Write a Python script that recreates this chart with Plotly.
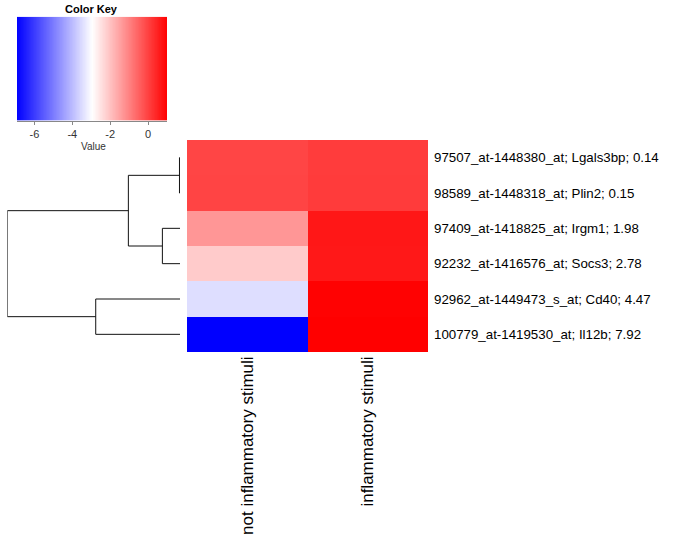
import numpy as np
import plotly.graph_objects as go

# ---------------- data ----------------
conditions = ["not inflammatory stimuli", "inflammatory stimuli"]
probes = ["97507_at-1448380_at", "98589_at-1448318_at", "97409_at-1418825_at",
          "92232_at-1416576_at", "92962_at-1449473_s_at", "100779_at-1419530_at"]
genes = ["Lgals3bp", "Plin2", "Irgm1", "Socs3", "Cd40", "Il12b"]
logfc = [0.14, 0.15, 1.98, 2.78, 4.47, 7.92]
values_not = [-0.07, -0.06, -1.33, -2.15, -3.47, -6.92]
values_infl = [0.07, 0.09, 0.65, 0.63, 0.97, 1.00]
# row dendrogram: (child a, child b, merge height); leaves "L#", internal nodes "N#"
merges = [("L0", "L1", 0.03), ("L2", "L3", 1.02), ("N0", "N1", 2.99),
          ("L4", "L5", 4.88), ("N2", "N3", 10.0)]
key_ticks = [-6, -4, -2, 0]
key_ticktext = ["-6", "-4", "-2", "0"]

W, H = 685, 540
FONT = "Liberation Sans, Arial, sans-serif"

def px_x(p):
    return p / W

def px_y(p):
    return 1 - p / H

z = [[a, b] for a, b in zip(values_not, values_infl)]
zmin = min(min(values_not), min(values_infl))
zmax = max(max(values_not), max(values_infl))
cscale = [[0, "#0000FF"], [0.5, "#FFFFFF"], [1, "#FF0000"]]

fig = go.Figure()

fig.add_trace(go.Heatmap(
    z=z, x=list(range(len(conditions))), y=list(range(len(probes))),
    colorscale=cscale, zmin=zmin, zmax=zmax, showscale=False,
    xaxis="x", yaxis="y", hoverinfo="skip"))

# dendrogram
pos = {}
for i in range(len(probes)):
    pos["L%d" % i] = (float(i), 0.0)
xs, ys = [], []
for k, (a, b, h) in enumerate(merges):
    ya, ha = pos[a]
    yb, hb = pos[b]
    xs += [ha, h, h, hb, None]
    ys += [ya, ya, yb, yb, None]
    pos["N%d" % k] = ((ya + yb) / 2, h)
fig.add_trace(go.Scatter(x=xs, y=ys, mode="lines", line=dict(color="#111111", width=1),
                         xaxis="x2", yaxis="y", hoverinfo="skip", cliponaxis=False))

# color key
kx = np.linspace(zmin, zmax, 256)
fig.add_trace(go.Heatmap(z=[list(kx)], x=list(kx), y=[0], colorscale=cscale,
                         zmin=zmin, zmax=zmax, showscale=False,
                         xaxis="x3", yaxis="y3", hoverinfo="skip"))

hm_top, hm_bot = 140, 352
fig.update_layout(
    width=W, height=H, margin=dict(l=0, r=0, t=0, b=0),
    paper_bgcolor="white", plot_bgcolor="white", showlegend=False,
    font=dict(family=FONT, color="black"),
    xaxis=dict(domain=[px_x(187), px_x(428)], range=[-0.5, 1.5], anchor="y",
               tickvals=list(range(len(conditions))), ticktext=conditions,
               tickangle=-90, tickfont=dict(size=17), ticks="", showgrid=False,
               zeroline=False, showline=False),
    yaxis=dict(domain=[px_y(hm_bot), px_y(hm_top)], range=[len(probes) - 0.5, -0.5],
               anchor="x", showticklabels=False, ticks="", showgrid=False,
               zeroline=False, showline=False),
    xaxis2=dict(domain=[px_x(7.3), px_x(180)], range=[merges[-1][2], 0], anchor="y",
                visible=False),
    xaxis3=dict(domain=[px_x(17), px_x(167)], range=[zmin, zmax], anchor="y3",
                tickvals=key_ticks, ticktext=key_ticktext, ticks="outside", ticklen=3,
                tickcolor="#888888", tickfont=dict(size=11, color="#333333"),
                showline=True, linecolor="#888888", linewidth=1,
                showgrid=False, zeroline=False),
    yaxis3=dict(domain=[px_y(120.5), px_y(16.7)], range=[-0.5, 0.5], anchor="x3",
                visible=False),
)

annotations = []
for i, (p, g, fc) in enumerate(zip(probes, genes, logfc)):
    annotations.append(dict(x=px_x(432), xref="paper", y=i, yref="y",
                            text="%s; %s; %.2f" % (p, g, fc), showarrow=False,
                            xanchor="left", yanchor="middle",
                            font=dict(size=13.3, family=FONT, color="black")))
annotations.append(dict(x=px_x(91), xref="paper", y=px_y(9), yref="paper",
                        text="<b>Color Key</b>", showarrow=False,
                        xanchor="center", yanchor="middle", font=dict(size=11, family=FONT)))
annotations.append(dict(x=px_x(93), xref="paper", y=px_y(146.5), yref="paper",
                        text="Value", showarrow=False, xanchor="center", yanchor="middle",
                        font=dict(size=10, family=FONT, color="#333333")))
fig.update_layout(annotations=annotations)

fig.write_html("out.html", config={"displayModeBar": False},
               post_script="document.body.style.margin='0px';")
